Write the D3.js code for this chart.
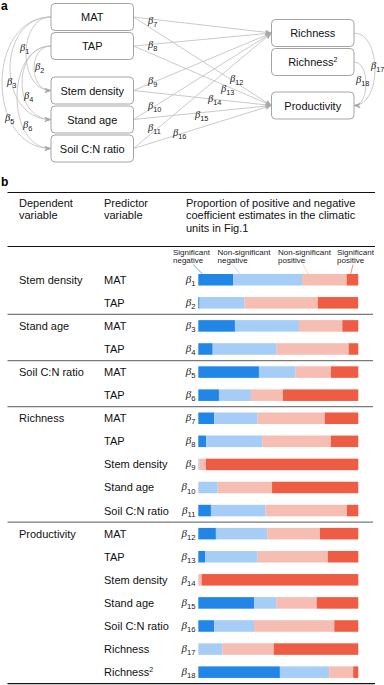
<!DOCTYPE html>
<html lang="en">
<head>
<meta charset="UTF-8">
<title>SEM paths and coefficient proportions</title>
<style>
  body { margin: 0; background: #fff; }
  svg { display: block; font-family: "Liberation Sans", Arial, sans-serif; }
</style>
</head>
<body>
<div id="chart"></div>
<script src="https://d3js.org/d3.v7.min.js"></script>
<script>
// ---- data ----
const leftNodes = ["MAT", "TAP", "Stem density", "Stand age", "Soil C:N ratio"];
const rightNodes = ["Richness", "Richness2", "Productivity"];

const dependents = ["Stem density", "Stand age", "Soil C:N ratio", "Richness", "Productivity"];
const groupSizes = [2, 2, 2, 5, 7];
const predictors = ["MAT", "TAP", "MAT", "TAP", "MAT", "TAP",
  "MAT", "TAP", "Stem density", "Stand age", "Soil C:N ratio",
  "MAT", "TAP", "Stem density", "Stand age", "Soil C:N ratio", "Richness", "Richness2"];
const betas = d3.range(1, 19);

const sigNeg = [21.9, 0.8, 22.9, 9.0, 37.9, 12.9, 10.0, 5.0, 0, 0, 7.9, 11.0, 4.2, 0, 34.8, 10.0, 0, 51.0];
const nsNeg  = [42.9, 28.1, 40.0, 40.0, 22.9, 20.0, 27.1, 35.0, 0.6, 12.1, 34.2, 32.1, 32.9, 0, 14.2, 24.8, 15.0, 30.8];
const nsPos  = [27.9, 45.8, 27.1, 45.0, 22.1, 20.0, 41.9, 42.9, 4.2, 34.0, 50.8, 32.9, 43.8, 2.1, 25.0, 50.2, 32.1, 15.0];
const sigPos = [7.3, 25.2, 10.0, 6.0, 17.1, 47.1, 21.0, 17.1, 95.2, 53.9, 7.1, 24.0, 19.1, 97.9, 26.0, 15.0, 52.9, 3.2];

const keys = ["sigNeg", "nsNeg", "nsPos", "sigPos"];
const legendLabels = [["Significant", "negative"], ["Non-significant", "negative"],
  ["Non-significant", "positive"], ["Significant", "positive"]];
const colors = ["#2186e6", "#a6cdf6", "#f6bdb2", "#ee5c44"];

// path diagram edges: [from, to, beta]
const leftCurves = [["MAT", "Stem density", 1], ["TAP", "Stem density", 2], ["MAT", "Stand age", 3],
  ["TAP", "Stand age", 4], ["MAT", "Soil C:N ratio", 5], ["TAP", "Soil C:N ratio", 6]];
const straightEdges = [["MAT", "Richness", 7], ["TAP", "Richness", 8], ["Stem density", "Richness", 9],
  ["Stand age", "Richness", 10], ["Soil C:N ratio", "Richness", 11],
  ["MAT", "Productivity", 12], ["TAP", "Productivity", 13], ["Stem density", "Productivity", 14],
  ["Stand age", "Productivity", 15], ["Soil C:N ratio", "Productivity", 16]];
const rightCurves = [["Richness", "Productivity", 17], ["Richness2", "Productivity", 18]];

// ---- setup ----
const W = 384, H = 685;
const svg = d3.select("#chart").append("svg").attr("width", W).attr("height", H);

const lineCol = "#bcbcbc";
svg.append("defs").append("marker")
  .attr("id", "arr").attr("viewBox", "0 0 8 6").attr("refX", 7.5).attr("refY", 3)
  .attr("markerWidth", 7).attr("markerHeight", 5.5).attr("markerUnits", "userSpaceOnUse")
  .attr("orient", "auto")
  .append("path").attr("d", "M0,0 L8,3 L0,6 L2,3 z").attr("fill", "#aaa");

function nodeText(sel, name) {
  if (name === "Richness2") {
    sel.text("Richness");
    sel.append("tspan").attr("font-size", 7).attr("dy", -4).text("2");
  } else sel.text(name);
}

function beta(sel, x, y, n, size, anchor) {
  const t = sel.append("text").attr("x", x).attr("y", y)
    .attr("font-size", size).attr("text-anchor", anchor || "start").attr("fill", "#222");
  t.append("tspan").attr("font-family", "'Liberation Serif', serif").attr("font-style", "italic").text("β");
  t.append("tspan").attr("font-size", size * 0.7).attr("dy", size * 0.28).text(n);
  return t;
}

// ---- panel a ----
const a = svg.append("g");
a.append("text").attr("x", 1).attr("y", 10).attr("font-weight", "bold").attr("font-size", 12).text("a");

const leftX = 51, boxW = 82.5, boxH = 27;
const leftTops = [3.5, 32.5, 77, 106, 135];
const rightX = 271.5, rightTops = [19.5, 48.5, 92];

const pos = {};
leftNodes.forEach((n, i) => pos[n] = { x: leftX, y: leftTops[i], cy: leftTops[i] + boxH / 2 });
rightNodes.forEach((n, i) => pos[n] = { x: rightX, y: rightTops[i], cy: rightTops[i] + boxH / 2 });

// straight edges
a.selectAll("line.edge").data(straightEdges).join("line")
  .attr("x1", d => pos[d[0]].x + boxW).attr("y1", d => pos[d[0]].cy)
  .attr("x2", d => pos[d[1]].x).attr("y2", d => pos[d[1]].cy)
  .attr("stroke", lineCol).attr("stroke-width", 0.8).attr("marker-end", "url(#arr)");

// left curves (reach = leftmost x of curve)
const leftReach = { 1: 26, 2: 34, 3: 10, 4: 22, 5: 2, 6: 17 };
a.selectAll("path.lc").data(leftCurves).join("path")
  .attr("d", d => {
    const y1 = pos[d[0]].cy, y2 = pos[d[1]].cy;
    const cx = leftX - (leftX - leftReach[d[2]]) / 0.75;
    return `M${leftX},${y1} C${cx},${y1} ${cx},${y2} ${leftX},${y2}`;
  })
  .attr("fill", "none").attr("stroke", lineCol).attr("stroke-width", 0.8).attr("marker-end", "url(#arr)");

// right curves
const rightReach = { 17: 375, 18: 366 };
a.selectAll("path.rc").data(rightCurves).join("path")
  .attr("d", d => {
    const x0 = rightX + boxW, y1 = pos[d[0]].cy, y2 = pos[d[1]].cy;
    const cx = x0 + (rightReach[d[2]] - x0) / 0.75;
    return `M${x0},${y1} C${cx},${y1} ${cx},${y2} ${x0},${y2}`;
  })
  .attr("fill", "none").attr("stroke", lineCol).attr("stroke-width", 0.8).attr("marker-end", "url(#arr)");

// boxes
const allNodes = leftNodes.concat(rightNodes);
const boxes = a.selectAll("g.node").data(allNodes).join("g")
  .attr("transform", d => `translate(${pos[d].x},${pos[d].y})`);
boxes.append("rect").attr("width", boxW).attr("height", boxH).attr("rx", 4)
  .attr("fill", "#fff").attr("stroke", "#9a9a9a").attr("stroke-width", 0.9);
boxes.append("text").attr("x", boxW / 2).attr("y", boxH / 2 + 4)
  .attr("text-anchor", "middle").attr("font-size", 11).attr("fill", "#111")
  .each(function (d) { nodeText(d3.select(this), d); });

// beta labels on diagram
const diagLabels = {
  1: [20, 51], 2: [35, 70], 3: [7, 85], 4: [24, 99], 5: [5, 121], 6: [23, 128],
  7: [148, 24], 8: [148, 48], 9: [148, 84], 10: [148, 109], 11: [148, 131],
  12: [230, 82], 13: [221, 92], 14: [208, 102], 15: [195, 118], 16: [173, 136],
  17: [371, 69], 18: [356, 83]
};
betas.forEach(b => beta(a, diagLabels[b][0], diagLabels[b][1], b, 10.5));

// ---- panel b ----
const b = svg.append("g");
b.append("text").attr("x", 1).attr("y", 186).attr("font-weight", "bold").attr("font-size", 12).text("b");

const tableX0 = 7.5, tableX1 = 375;
b.append("line").attr("x1", tableX0).attr("x2", tableX1).attr("y1", 192.5).attr("y2", 192.5).attr("stroke", "#111");
b.append("line").attr("x1", tableX0).attr("x2", tableX1).attr("y1", 246.5).attr("y2", 246.5).attr("stroke", "#111");

const colDep = 19, colPred = 104, colBar = 186;
const header = [[colDep, ["Dependent", "variable"]], [colPred, ["Predictor", "variable"]],
  [colBar, ["Proportion of positive and negative", "coefficient estimates in the climatic", "units in Fig.1"]]];
header.forEach(([x, lines]) => {
  lines.forEach((l, i) => b.append("text").attr("x", x).attr("y", 207 + i * 12.3)
    .attr("font-size", 11).attr("fill", "#111").text(l));
});

const y = d3.scaleBand().domain(d3.range(18)).range([268.2, 683.7]).paddingInner(0.5).paddingOuter(0.25);
const x = d3.scaleLinear().domain([0, 100]).range([198.3, 358.3]);

const rows = betas.map((bn, i) => ({ i, bn, sigNeg: sigNeg[i], nsNeg: nsNeg[i], nsPos: nsPos[i], sigPos: sigPos[i] }));
const series = d3.stack().keys(keys)(rows);

b.selectAll("g.series").data(series).join("g")
  .attr("fill", (d, k) => colors[k])
  .selectAll("rect").data(d => d).join("rect")
  .attr("x", d => x(d[0])).attr("width", d => x(d[1]) - x(d[0]))
  .attr("y", d => y(d.data.i)).attr("height", y.bandwidth());

// row labels
const step = y.step(), gap = (step - y.bandwidth()) / 2;
rows.forEach(r => {
  const cy = y(r.i) + y.bandwidth() / 2;
  const t = b.append("text").attr("x", colPred).attr("y", cy + 4).attr("font-size", 11).attr("fill", "#111");
  nodeText(t, predictors[r.i]);
  beta(b, 195.5, cy + 3, r.bn, 11, "end");
});

let start = 0;
dependents.forEach((dname, g) => {
  const cy = y(start) + y.bandwidth() / 2;
  b.append("text").attr("x", colDep).attr("y", cy + 4).attr("font-size", 11).attr("fill", "#111").text(dname);
  if (g > 0) {
    const ly = y(start) - gap;
    b.append("line").attr("x1", tableX0).attr("x2", 373).attr("y1", ly).attr("y2", ly)
      .attr("stroke", "#7a7a7a").attr("stroke-width", 1.2);
  }
  start += groupSizes[g];
});
b.append("line").attr("x1", tableX0).attr("x2", tableX1)
  .attr("y1", y(17) + y.bandwidth() + gap).attr("y2", y(17) + y.bandwidth() + gap)
  .attr("stroke", "#111").attr("stroke-width", 1.2);

// legend labels with leader lines to the first bar
const legX = [173, 217.5, 278, 337];
const leadOff = [20, 15, 25, 16];
const leadFrac = [0.12, 0.1, 0.14, 0.35];
legendLabels.forEach((lab, k) => {
  lab.forEach((l, j) => b.append("text").attr("x", legX[k]).attr("y", 254.5 + j * 8.5)
    .attr("font-size", 8).attr("fill", "#222").text(l));
  const seg = series[k][0];
  const tx = x(seg[0]) + leadFrac[k] * (x(seg[1]) - x(seg[0]));
  b.append("line").attr("x1", legX[k] + leadOff[k]).attr("y1", 264.5)
    .attr("x2", tx).attr("y2", y(0))
    .attr("stroke", colors[k]).attr("stroke-width", 0.7);
});
</script>
</body>
</html>
